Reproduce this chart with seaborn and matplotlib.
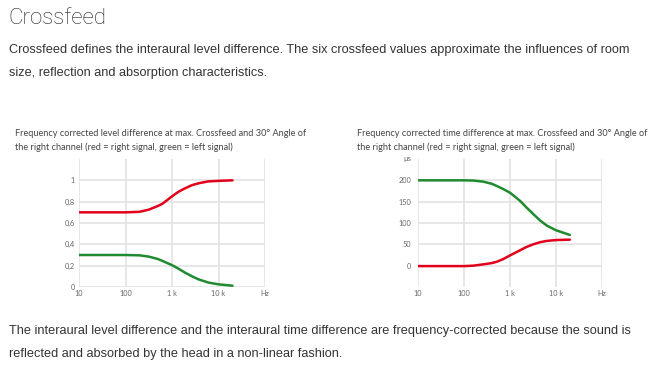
import numpy as np
import pandas as pd
import matplotlib
matplotlib.use("Agg")
import matplotlib.pyplot as plt
import seaborn as sns

# level difference (left chart)
freq_level = [10, 100, 200, 316, 500, 620, 1000, 1400, 1900, 2700, 3700, 6000, 10000, 20000]
level_right = [0.70, 0.70, 0.705, 0.725, 0.76, 0.78, 0.85, 0.895, 0.925, 0.955, 0.972, 0.99, 0.995, 1.0]
level_left = [0.30, 0.30, 0.297, 0.285, 0.262, 0.245, 0.205, 0.17, 0.135, 0.10, 0.072, 0.042, 0.025, 0.012]

# time difference (right chart)
freq_time = [10, 100, 160, 260, 400, 510, 700, 1000, 1650, 2300, 3200, 4500, 6300, 10000, 20000]
time_left = [200, 200, 199.5, 197, 192, 187, 180, 171, 152, 136, 121, 106, 94, 83, 72]
time_right = [-1, -1, 0, 3, 6, 9, 15, 24, 36, 44, 50, 55, 58, 60, 61]

x_ticks = [10, 100, 1000, 10000, 100000]
x_labels = ["10", "100", "1 k", "10 k", "Hz"]
level_ticks = [0, 0.2, 0.4, 0.6, 0.8, 1]
level_labels = ["0", "0,2", "0,4", "0,6", "0,8", "1"]
time_ticks = [0, 50, 100, 150, 200]
time_labels = ["0", "50", "100", "150", "200"]

RED = "#e2001a"
GREEN = "#1f8a2f"

sns.set_style("white")
plt.rcParams['font.family'] = ['Liberation Sans', 'DejaVu Sans']

W, H = 660, 368
fig = plt.figure(figsize=(W / 100, H / 100), dpi=100)
fig.patch.set_facecolor("white")


def px(x, y):
    return x / W, 1 - y / H


def text(x, y, s, size, color, family=None, **kw):
    kw.setdefault("va", "center")
    if family:
        kw["family"] = family
    fig.text(*px(x, y), s, fontsize=size, color=color, **kw)


text(8, 18, "Crossfeed", 16, "#222222", family="Roboto", weight="light")
text(9, 50, "Crossfeed defines the interaural level difference. The six crossfeed values approximate the influences of room",
     9.2, "#333333")
text(9, 73, "size, reflection and absorption characteristics.", 9.2, "#333333")
text(9, 331, "The interaural level difference and the interaural time difference are frequency-corrected because the sound is",
     9.2, "#333333")
text(9, 354, "reflected and absorbed by the head in a non-linear fashion.", 9.2, "#333333")

text(15, 133, "Frequency corrected level difference at max. Crossfeed and 30° Angle of", 6.6, "#444444", family="Lato")
text(15, 147, "the right channel (red = right signal, green = left signal)", 6.6, "#444444", family="Lato")
text(357, 133, "Frequency corrected time difference at max. Crossfeed and 30° Angle of", 6.6, "#444444", family="Lato")
text(357, 147, "the right channel (red = right signal, green = left signal)", 6.6, "#444444", family="Lato")


def style_axis(ax, yticks, ylabels, ylim, ypad):
    ax.set_xscale("log")
    ax.set_xlim(10, 100000)
    ax.set_ylim(*ylim)
    ax.set_xticks(x_ticks)
    ax.set_xticklabels(x_labels)
    ax.set_yticks(yticks)
    ax.set_yticklabels(ylabels)
    ax.minorticks_off()
    ax.grid(True, color="#e3e3e3", linewidth=1.2)
    ax.set_axisbelow(True)
    for s in ax.spines.values():
        s.set_visible(False)
    ax.tick_params(axis="both", length=0, labelsize=5.3, labelcolor="#666666")
    ax.tick_params(axis="x", pad=2)
    ax.tick_params(axis="y", pad=ypad)
    for t in ax.get_xticklabels() + ax.get_yticklabels():
        t.set_family("Lato")
    ax.set_xlabel("")
    ax.set_ylabel("")
    ax.set_facecolor("white")


ax1 = fig.add_axes([79 / W, (H - 287) / H, 186 / W, 128 / H])
df_level = pd.DataFrame({"freq": freq_level, "right": level_right, "left": level_left})
sns.lineplot(data=df_level, x="freq", y="right", ax=ax1, color=RED, linewidth=1.8)
sns.lineplot(data=df_level, x="freq", y="left", ax=ax1, color=GREEN, linewidth=1.8)
style_axis(ax1, level_ticks, level_labels, (0, 1.2), 3)

ax2 = fig.add_axes([418 / W, (H - 287) / H, 184 / W, 128 / H])
df_time = pd.DataFrame({"freq": freq_time, "right": time_right, "left": time_left})
sns.lineplot(data=df_time, x="freq", y="left", ax=ax2, color=GREEN, linewidth=1.8)
sns.lineplot(data=df_time, x="freq", y="right", ax=ax2, color=RED, linewidth=1.8)
style_axis(ax2, time_ticks, time_labels, (-50, 250), 5)
ax2.text(-0.035, 1.0, "µs", transform=ax2.transAxes, fontsize=5.3, color="#666666",
         ha="right", va="center", family="Lato")

fig.savefig("out.png", dpi=100, facecolor="white")
